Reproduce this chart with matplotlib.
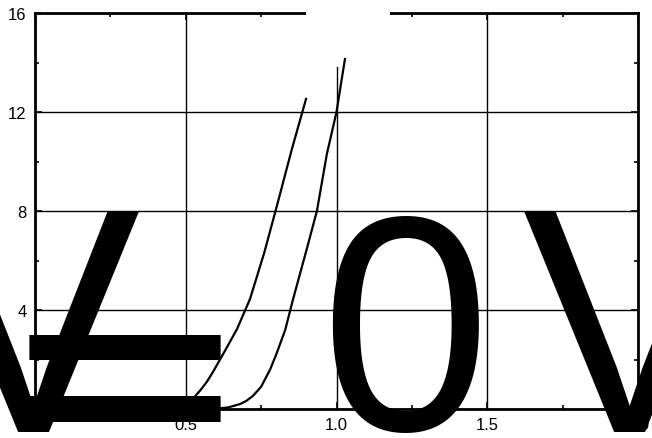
import matplotlib
matplotlib.use("Agg")
import matplotlib.pyplot as plt
from matplotlib.patches import Rectangle

# ---- data ----
x_curve1 = [0.50, 0.505, 0.514, 0.53, 0.55, 0.57, 0.59, 0.63, 0.67, 0.713, 0.76, 0.80, 0.852, 0.899]
y_curve1 = [0.00, 0.10, 0.28, 0.50, 0.78, 1.10, 1.49, 2.35, 3.23, 4.44, 6.30, 8.10, 10.50, 12.53]
x_curve2 = [0.52, 0.56, 0.60, 0.64, 0.68, 0.70, 0.723, 0.75, 0.78, 0.80, 0.83, 0.856, 0.90, 0.935, 0.968, 1.00, 1.028]
y_curve2 = [0.00, 0.01, 0.02, 0.06, 0.20, 0.32, 0.53, 0.90, 1.60, 2.20, 3.20, 4.44, 6.40, 8.00, 10.30, 12.00, 14.14]
x_ticks = [0, 0.5, 1.0, 1.5, 2.0]
x_ticklabels = ["0", "0.5", "1.0", "1.5", "2.0"]
y_ticks = [0, 4, 8, 12, 16]
y_ticklabels = ["0", "4", "8", "12", "16"]

W, H = 652, 439
fig = plt.figure(figsize=(W / 100, H / 100), dpi=100)
ax = fig.add_axes([35 / W, (H - 410) / H, (638 - 35) / W, (410 - 14) / H])

ax.plot(x_curve1, y_curve1, color="black", lw=1.6, zorder=3)
ax.plot(x_curve2, y_curve2, color="black", lw=1.6, zorder=3)

ax.set_xlim(0, 2.0)
ax.set_ylim(0, 16)
ax.set_xticks(x_ticks)
ax.set_xticklabels(x_ticklabels)
ax.set_yticks(y_ticks)
ax.set_yticklabels(y_ticklabels)
ax.set_xticks([0.25, 0.75, 1.25, 1.75], minor=True)
ax.set_yticks([2, 6, 10, 14], minor=True)
ax.tick_params(which="both", direction="in", top=True, right=True, width=1.2)
ax.tick_params(which="major", length=5, pad=6, labelsize=12)
ax.tick_params(which="minor", length=3)
for lab in ax.get_xticklabels() + ax.get_yticklabels():
    lab.set_fontfamily("Liberation Sans")
ax.grid(True, which="major", color="black", lw=1.0)
ax.set_axisbelow(True)
for s in ax.spines.values():
    s.set_linewidth(2.0)

# white box over top spine
ax.add_patch(Rectangle((306 / W, (H - 68) / H), (390 - 306) / W, 68 / H,
                       transform=fig.transFigure, facecolor="white",
                       edgecolor="none", clip_on=False, zorder=2.8))

# huge overlaid text
big = dict(family="Liberation Sans", color="black", zorder=10,
           ha="center", va="baseline")
fig.text(33 / W, (H - 432) / H, "V", fontsize=230, **big)
fig.text(125 / W, (H - 475) / H, "=", fontsize=220,
         **{**big, "family": "DejaVu Sans"})
fig.text(405 / W, (H - 430) / H, "0", fontsize=220, **big)
fig.text(629 / W, (H - 432) / H, "V", fontsize=230, **big)

fig.savefig("out.png", dpi=100)
